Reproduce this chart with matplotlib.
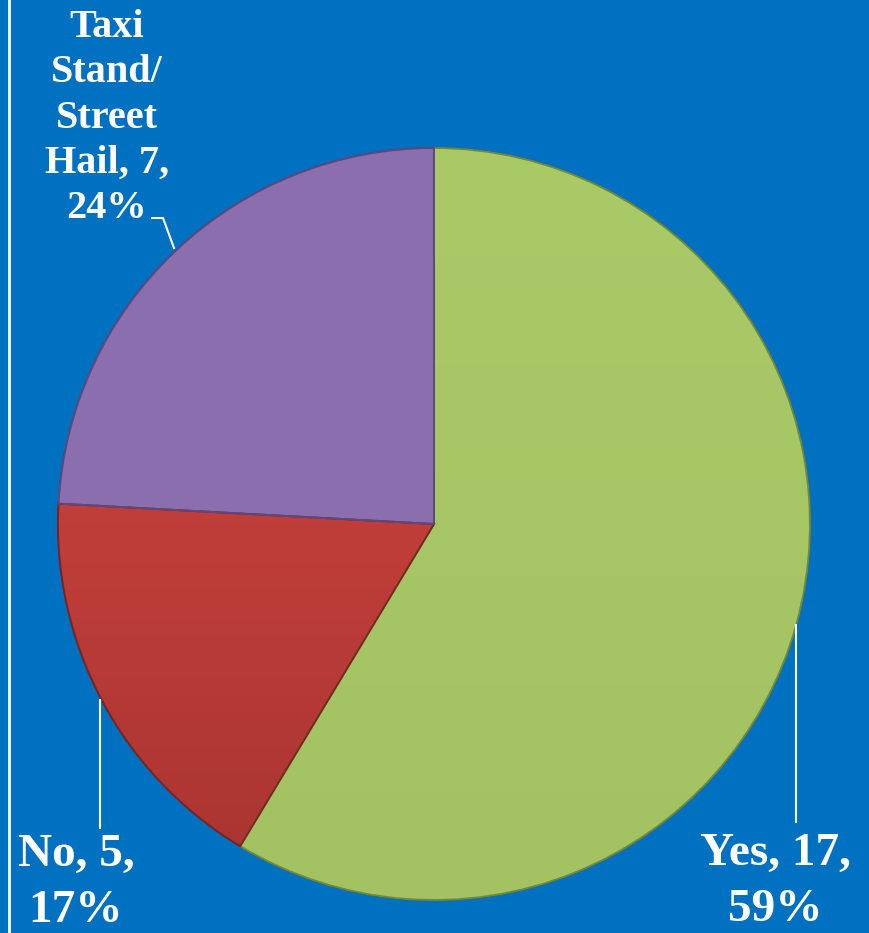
import numpy as np
import matplotlib
matplotlib.use("Agg")
import matplotlib.pyplot as plt
from matplotlib.colors import LinearSegmentedColormap
from matplotlib.patches import PathPatch

# survey answers
categories = ["Yes", "No", "Taxi Stand/Street Hail"]
label_lines = ["Yes, {v},\n{p}%", "No, {v},\n{p}%", "Taxi\nStand/\nStreet\nHail, {v},\n{p}%"]
counts = [17, 5, 7]

top_colors = ["#AAC967", "#D84842", "#8C6FAF"]
bottom_colors = ["#A3C262", "#A83431", "#8A6DAB"]
edge_colors = ["#6E8A3A", "#7A2422", "#5E4880"]

bg = "#0070C0"
W, H = 869, 933

fig = plt.figure(figsize=(W / 100, H / 100), dpi=100, facecolor=bg)
ax = fig.add_axes([0, 0, 1, 1])
ax.set_facecolor(bg)

cx, cy, r = 434, H - 524, 376
wedges, _ = ax.pie(counts, startangle=90, counterclock=False, center=(cx, cy),
                   radius=r, colors=top_colors, frame=True,
                   wedgeprops=dict(linewidth=1.2, edgecolor="#3a3a3a"))
ax.set_xlim(0, W)
ax.set_ylim(0, H)
ax.set_aspect("equal")
ax.axis("off")

# vertical shading inside each slice
for w, c0, c1, ec in zip(wedges, top_colors, bottom_colors, edge_colors):
    cmap = LinearSegmentedColormap.from_list("s", [c0, c1])
    grad = np.linspace(0, 1, 256).reshape(-1, 1)
    im = ax.imshow(grad, cmap=cmap, extent=(cx - r, cx + r, cy - r, cy + r),
                   origin="upper", aspect="auto", zorder=w.get_zorder() + 0.1)
    im.set_clip_path(w)
    ax.add_patch(PathPatch(w.get_path(), fill=False, edgecolor=ec, linewidth=1.4,
                           transform=w.get_transform(), zorder=3))
ax.set_xlim(0, W)
ax.set_ylim(0, H)

total = sum(counts)
pcts = [round(100 * v / total) for v in counts]

# label placement (pixel coords from top-left)
label_pos = [(775, 882), (76, 883), (107, 118)]
font_sizes = [34, 34, 29]
spacing = [1.43, 1.43, 1.29]
for txt, v, p, (lx, ly), fs, ls in zip(label_lines, counts, pcts, label_pos, font_sizes, spacing):
    ax.text(lx, H - ly, txt.format(v=v, p=p), ha="center", va="center",
            fontsize=fs, fontweight="bold", family="Liberation Serif",
            color="white", linespacing=ls, zorder=5)

# leader lines
lc = dict(color="white", linewidth=1.5, zorder=4)
ax.plot([796, 796], [H - 625, H - 822], **lc)
ax.plot([100, 100], [H - 700, H - 828], **lc)
ax.plot([152, 163, 174], [H - 218, H - 218, H - 248], **lc)

# white frame line on the left
ax.plot([9, 9], [0, H], color="white", linewidth=2, zorder=5)

fig.savefig("out.png", dpi=100, facecolor=bg)
